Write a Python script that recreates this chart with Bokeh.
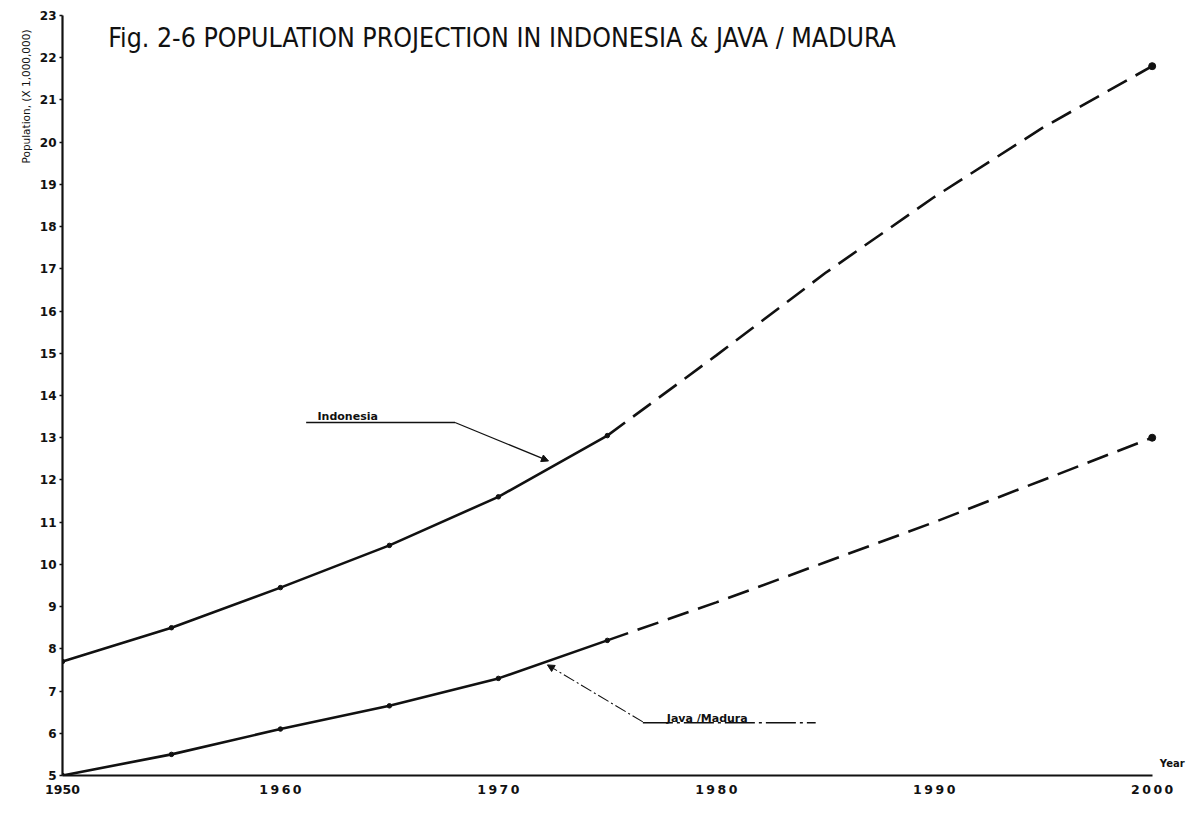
from bokeh.plotting import figure
from bokeh.models import FixedTicker, Label, Arrow, NormalHead, Range1d, Title
from bokeh.embed import file_html
from bokeh.resources import INLINE

# Population projection, millions (x 1,000,000)
years = [1950, 1955, 1960, 1965, 1970, 1975, 1980, 1985, 1990, 1995, 2000]
indonesia = [7.7, 8.5, 9.45, 10.45, 11.6, 13.05, 14.95, 16.9, 18.7, 20.35, 21.8]
java_madura = [5.0, 5.5, 6.1, 6.65, 7.3, 8.2, 9.1, 10.05, 11.0, 12.0, 13.0]

year_ticks = [1950, 1960, 1970, 1980, 1990, 2000]
pop_ticks = list(range(5, 24))

LAST_OBSERVED = 1975  # solid up to here, projection dashed afterwards

INK = "#111111"
LABEL_FONT = "DejaVu Sans"
TITLE_FONT = "DejaVu Sans Condensed"

p = figure(
    width=1194, height=816,
    x_range=Range1d(1950, 2001.85), y_range=Range1d(5, 23),
    output_backend="svg", toolbar_location=None,
    min_border_left=62, min_border_right=2,
    min_border_top=15, min_border_bottom=41,
)
p.outline_line_color = None
p.xgrid.visible = False
p.ygrid.visible = False
p.background_fill_color = "white"
p.border_fill_color = "white"

# axes
for ax in (p.xaxis[0], p.yaxis[0]):
    ax.axis_line_color = INK
    ax.axis_line_width = 2.2
    ax.major_tick_line_color = INK
    ax.major_tick_line_width = 1.5
    ax.minor_tick_line_color = None
    ax.major_label_text_font = LABEL_FONT
    ax.major_label_text_font_style = "bold"
    ax.major_label_text_color = INK

p.yaxis.ticker = FixedTicker(ticks=pop_ticks)
p.yaxis.major_tick_out = 3
p.yaxis.major_tick_in = 0
p.yaxis.major_label_standoff = 3
p.yaxis.major_label_text_font_size = "12px"

p.xaxis.ticker = FixedTicker(ticks=year_ticks)
p.xaxis.bounds = (1950, 2000)
p.xaxis.major_tick_out = 0
p.xaxis.major_tick_in = 0
p.xaxis.major_label_standoff = 6
p.xaxis.major_label_text_font_size = "12.5px"
p.xaxis.major_label_overrides = {
    y: ("\u2009".join(str(y)) if y != 1950 else str(y)) for y in year_ticks
}

# vertical caption, set against the top of the population axis
p.add_layout(Title(
    text="Population, (X 1,000,000)", align="right", offset=14,
    text_font=LABEL_FONT, text_font_size="10.5px", text_font_style="normal",
    text_color=INK, standoff=10,
), "left")

# curves: observed (solid) and projected (dashed)
def split(xs, ys):
    solid = [(x, y) for x, y in zip(xs, ys) if x <= LAST_OBSERVED]
    dashed = [(x, y) for x, y in zip(xs, ys) if x >= LAST_OBSERVED]
    return solid, dashed

for series in (indonesia, java_madura):
    solid, dashed = split(years, series)
    p.line([s[0] for s in solid], [s[1] for s in solid],
           line_color=INK, line_width=2.6)
    p.line([d[0] for d in dashed], [d[1] for d in dashed],
           line_color=INK, line_width=2.6, line_dash="22 10")
    p.scatter([s[0] for s in solid], [s[1] for s in solid], size=4.5, color=INK)
    p.scatter([years[-1]], [series[-1]], size=7, color=INK)

# title inside the plotting area
p.add_layout(Label(
    x=1952.1, y=22.48,
    text="Fig. 2-6  POPULATION PROJECTION IN INDONESIA & JAVA / MADURA",
    text_font=TITLE_FONT, text_font_size="26.5px", text_color=INK,
    text_baseline="alphabetic",
))

# "Year" caption at the end of the horizontal axis
p.add_layout(Label(
    x=2000.35, y=5.28, text="Year", text_font=LABEL_FONT, text_font_style="bold",
    text_font_size="10px", text_color=INK, text_baseline="alphabetic",
))

# Indonesia callout
p.line([1961.18, 1968.01], [13.36, 13.36], line_color=INK, line_width=1.6)
p.add_layout(Arrow(
    x_start=1968.01, y_start=13.36, x_end=1972.3, y_end=12.45,
    line_color=INK, line_width=1.3,
    end=NormalHead(size=7, fill_color=INK, line_color=INK),
))
p.add_layout(Label(
    x=1961.7, y=13.5, text="Indonesia", text_font=LABEL_FONT,
    text_font_style="bold", text_font_size="11px", text_color=INK,
    text_baseline="alphabetic",
))

# Java / Madura callout
p.line([1976.63, 1984.56], [6.25, 6.25], line_color=INK, line_width=1.6,
       line_dash="30 4 3 4")
p.add_layout(Arrow(
    x_start=1976.63, y_start=6.27, x_end=1972.25, y_end=7.62,
    line_color=INK, line_width=1.1, line_dash="12 3 2 3",
    end=NormalHead(size=7, fill_color=INK, line_color=INK),
))
p.add_layout(Label(
    x=1977.73, y=6.36, text="Java /Madura", text_font=LABEL_FONT,
    text_font_style="bold", text_font_size="11px", text_color=INK,
    text_baseline="alphabetic",
))

open("out.html", "w").write(file_html(p, INLINE))
